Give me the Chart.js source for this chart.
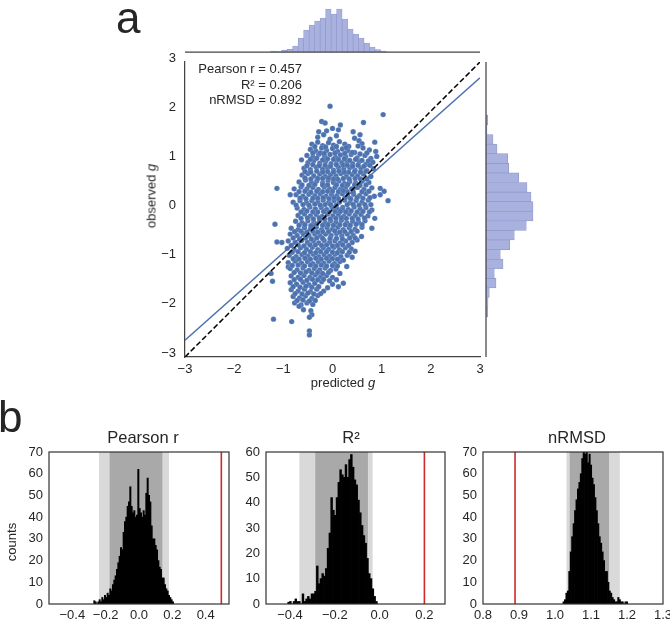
<!DOCTYPE html>
<html><head><meta charset="utf-8">
<script src="https://cdn.jsdelivr.net/npm/chart.js@4.4.0/dist/chart.umd.min.js"></script>
<style>
html,body{margin:0;padding:0;background:#fff;overflow:hidden;width:670px;height:629px}
#wrap{position:relative;width:670px;height:629px;overflow:hidden;font-family:'Liberation Sans',Arial,Helvetica,sans-serif;color:#262626}
canvas{position:absolute}
.t{position:absolute;white-space:nowrap;line-height:1}
.c{transform:translate(-50%,-50%)}
.r{transform:translate(-50%,-50%) rotate(-90deg)}
</style></head><body><div id="wrap">
<canvas id="main" width="370" height="360" style="left:125px;top:40px"></canvas>
<canvas id="topm" width="295" height="56" style="left:185px;top:0px"></canvas>
<canvas id="rightm" width="90" height="295" style="left:482px;top:62px"></canvas>
<canvas id="h1" width="240" height="209" style="left:0px;top:420px"></canvas>
<canvas id="h2" width="225" height="209" style="left:230px;top:420px"></canvas>
<canvas id="h3" width="240" height="209" style="left:450px;top:420px"></canvas>

<div class="t" style="left:116px;top:-4px;font-size:44px">a</div>
<div class="t" style="left:-2px;top:395px;font-size:44px">b</div>
<div class="t" style="left:130px;top:61px;width:172px;text-align:right;font-size:13px;line-height:15.5px">Pearson r = 0.457<br>R² = 0.206<br>nRMSD = 0.892</div>
<div class="t r" style="left:151px;top:196px;font-size:13px">observed <i>g</i></div>
<div class="t c" style="left:343px;top:382px;font-size:13px">predicted <i>g</i></div>
<div class="t r" style="left:11px;top:542px;font-size:13px">counts</div>
<div class="t c" style="left:143px;top:437px;font-size:16.5px">Pearson r</div>
<div class="t c" style="left:351px;top:437px;font-size:16.5px">R²</div>
<div class="t c" style="left:577px;top:437px;font-size:16.5px">nRMSD</div>
</div>
<script>
// ---------------- DATA ----------------
// panel a: [predicted g, observed g]
const scatterPoints = [
[-0.05,2.10],[1.03,1.93],[-0.22,1.79],[-0.15,1.76],[0.63,1.77],[0.16,1.72],[0.00,1.65],[0.12,1.62],[-0.12,1.60],[-0.28,1.58],[0.42,1.58],[0.56,1.52],
[-0.30,1.47],[-0.18,1.52],[-0.05,1.43],[0.08,1.50],[0.45,1.45],[0.54,1.40],
[-0.42,1.33],[-0.30,1.37],[-0.20,1.30],[-0.08,1.36],[0.02,1.31],[0.14,1.38],[0.25,1.33],[0.33,1.28],[0.60,1.34],[0.86,1.37],
[-0.45,1.22],[-0.34,1.19],[-0.22,1.25],[-0.12,1.20],[0.00,1.24],[0.10,1.18],[0.20,1.23],[0.31,1.20],[0.45,1.16],[0.62,1.25],[0.75,1.21],[0.88,1.18],
[-0.52,1.10],[-0.40,1.07],[-0.28,1.12],[-0.16,1.08],[-0.05,1.12],[0.06,1.06],[0.16,1.11],[0.27,1.07],[0.38,1.12],[0.50,1.05],[0.66,1.10],[0.78,1.04],[0.90,1.08],
[-0.63,1.01],[-0.50,0.95],[-0.38,0.99],[-0.26,0.94],[-0.14,0.98],[-0.03,0.93],[0.08,0.99],[0.19,0.95],[0.30,0.98],[0.41,0.93],[0.54,0.97],[0.68,0.92],[0.82,0.96],
[-0.58,0.84],[-0.45,0.81],[-0.33,0.86],[-0.20,0.82],[-0.10,0.85],[0.02,0.80],[0.12,0.86],[0.23,0.82],[0.35,0.85],[0.46,0.80],[0.58,0.84],[0.70,0.79],[0.83,0.83],
[-0.62,0.70],[-0.50,0.73],[-0.38,0.68],[-0.26,0.72],[-0.15,0.67],[-0.04,0.71],[0.07,0.68],[0.17,0.73],[0.28,0.67],[0.40,0.71],[0.51,0.68],[0.63,0.72],[0.78,0.67],
[-0.68,0.56],[-0.55,0.60],[-0.43,0.55],[-0.32,0.58],[-0.20,0.54],[-0.09,0.59],[0.02,0.55],[0.13,0.58],[0.24,0.53],[0.35,0.57],[0.47,0.54],[0.60,0.58],[0.74,0.55],
[-1.13,0.43],[-0.78,0.42],[-0.64,0.46],[-0.52,0.42],[-0.40,0.45],[-0.29,0.41],[-0.17,0.46],[-0.06,0.42],[0.05,0.45],[0.16,0.41],[0.27,0.46],[0.39,0.42],[0.51,0.45],[0.64,0.41],[0.80,0.44],[0.97,0.43],[1.05,0.37],
[-0.86,0.30],[-0.74,0.30],[-0.60,0.27],[-0.48,0.31],[-0.36,0.28],[-0.25,0.32],[-0.13,0.27],[-0.02,0.31],[0.09,0.28],[0.20,0.32],[0.31,0.27],[0.43,0.31],[0.55,0.28],[0.68,0.32],[0.85,0.27],[0.97,0.30],
[-0.80,0.15],[-0.66,0.18],[-0.53,0.14],[-0.42,0.18],[-0.30,0.15],[-0.19,0.19],[-0.08,0.14],[0.03,0.18],[0.14,0.15],[0.25,0.19],[0.36,0.14],[0.48,0.18],[0.60,0.15],[0.73,0.19],[1.13,0.18],
[-0.72,0.03],[-0.58,0.00],[-0.46,0.05],[-0.35,0.01],[-0.23,0.04],[-0.12,0.00],[-0.01,0.05],[0.10,0.01],[0.21,0.04],[0.32,0.00],[0.44,0.05],[0.56,0.01],[0.68,0.04],[0.80,-0.01],
[-0.70,-0.12],[-0.57,-0.09],[-0.45,-0.13],[-0.33,-0.10],[-0.21,-0.14],[-0.10,-0.09],[0.01,-0.13],[0.12,-0.10],[0.23,-0.14],[0.34,-0.09],[0.46,-0.12],[0.58,-0.10],[0.72,-0.13],[0.86,-0.18],
[-1.17,-0.30],[-0.75,-0.24],[-0.62,-0.27],[-0.50,-0.23],[-0.38,-0.26],[-0.26,-0.22],[-0.15,-0.27],[-0.04,-0.23],[0.07,-0.26],[0.18,-0.22],[0.29,-0.27],[0.41,-0.24],[0.53,-0.26],[0.66,-0.23],
[-0.84,-0.38],[-0.70,-0.41],[-0.57,-0.37],[-0.45,-0.40],[-0.33,-0.36],[-0.22,-0.41],[-0.11,-0.37],[0.00,-0.40],[0.11,-0.36],[0.22,-0.41],[0.34,-0.37],[0.46,-0.40],[0.60,-0.36],[0.80,-0.38],
[-0.86,-0.50],[-0.72,-0.53],[-0.60,-0.49],[-0.48,-0.53],[-0.36,-0.50],[-0.25,-0.54],[-0.14,-0.50],[-0.03,-0.53],[0.08,-0.49],[0.19,-0.54],[0.30,-0.50],[0.42,-0.53],[0.59,-0.55],
[-1.13,-0.66],[-1.03,-0.67],[-0.90,-0.64],[-0.76,-0.67],[-0.63,-0.63],[-0.51,-0.67],[-0.39,-0.64],[-0.28,-0.68],[-0.17,-0.63],[-0.06,-0.67],[0.05,-0.64],[0.16,-0.68],[0.27,-0.64],[0.40,-0.67],[0.50,-0.62],
[-0.92,-0.79],[-0.78,-0.82],[-0.65,-0.78],[-0.53,-0.81],[-0.41,-0.77],[-0.30,-0.82],[-0.19,-0.78],[-0.08,-0.81],[0.03,-0.77],[0.14,-0.82],[0.26,-0.78],[0.38,-0.80],[0.46,-0.85],
[-0.88,-0.93],[-0.74,-0.96],[-0.62,-0.92],[-0.50,-0.95],[-0.39,-0.91],[-0.28,-0.96],[-0.17,-0.92],[-0.06,-0.95],[0.05,-0.91],[0.17,-0.96],[0.30,-0.93],[0.40,-0.97],
[-0.90,-1.08],[-0.76,-1.05],[-0.63,-1.09],[-0.51,-1.06],[-0.40,-1.10],[-0.29,-1.06],[-0.18,-1.09],[-0.07,-1.05],[0.04,-1.10],[0.15,-1.06],[0.29,-1.16],[0.22,-1.03],
[-0.90,-1.17],[-0.86,-1.20],[-0.72,-1.23],[-0.60,-1.19],[-0.48,-1.24],[-0.37,-1.20],[-0.26,-1.23],[-0.15,-1.19],[-0.04,-1.24],[0.07,-1.21],[0.15,-1.30],
[-1.25,-1.30],[-0.84,-1.35],[-0.70,-1.38],[-0.58,-1.34],[-0.46,-1.38],[-0.35,-1.33],[-0.24,-1.37],[-0.12,-1.34],[0.00,-1.38],[0.08,-1.43],
[-1.22,-1.46],[-0.86,-1.49],[-0.73,-1.52],[-0.60,-1.48],[-0.48,-1.53],[-0.36,-1.50],[-0.22,-1.47],[0.00,-1.52],[0.12,-1.57],[0.22,-1.50],
[-0.84,-1.63],[-0.70,-1.66],[-0.57,-1.62],[-0.45,-1.67],[-0.32,-1.62],[-0.18,-1.66],
[-0.80,-1.77],[-0.67,-1.80],[-0.55,-1.76],[-0.42,-1.81],[-0.30,-1.75],
[-0.77,-1.90],[-0.64,-1.94],[-0.52,-1.90],[-0.40,-1.93],[-0.68,-1.97],[-0.59,-2.04],[-0.44,-2.06],
[-0.42,-2.14],[-0.47,-2.19],[-1.20,-2.23],[-0.83,-2.28],[-0.47,-2.47],[-0.47,-2.55],
[-0.25,1.15],[0.02,1.02],[0.22,0.90],[-0.10,0.77],[0.33,0.76],[-0.30,0.63],[0.10,0.62],[0.45,0.50],[-0.20,0.50],[0.00,0.37],[0.30,0.36],[-0.40,0.23],[0.12,0.22],[0.42,0.10],[-0.15,0.10],[0.05,-0.04],[-0.30,-0.05],[0.28,-0.18],[-0.05,-0.19],[0.15,-0.31],[-0.40,-0.31],[0.25,-0.45],[-0.20,-0.45],[-0.05,-0.59],[0.35,-0.58],[-0.35,-0.72],[0.10,-0.73],[-0.12,-0.86],[0.20,0.00],[0.50,0.24],
[-0.36,1.28],[-0.14,1.27],[0.08,1.28],[0.28,1.26],[0.52,1.29],
[-0.40,1.15],[-0.17,1.14],[0.05,1.15],[0.25,1.14],[0.40,1.16],[0.56,1.13],[0.70,1.15],
[-0.45,1.02],[-0.32,1.04],[-0.20,1.01],[-0.10,1.03],[0.12,1.02],[0.24,1.03],[0.35,1.00],[0.47,1.02],[0.60,1.00],[0.73,0.99],
[-0.52,0.89],[-0.40,0.91],[-0.27,0.89],[-0.15,0.90],[-0.04,0.88],[0.08,0.91],[0.30,0.90],[0.41,0.88],[0.52,0.90],[0.64,0.88],[0.76,0.90],
[-0.56,0.77],[-0.44,0.76],[-0.32,0.78],[-0.20,0.76],[0.02,0.76],[0.13,0.78],[0.24,0.76],[0.45,0.77],[0.57,0.76],[0.68,0.78],
[-0.56,0.64],[-0.44,0.62],[-0.20,0.63],[-0.08,0.64],[0.02,0.62],[0.22,0.63],[0.34,0.62],[0.46,0.63],[0.57,0.62],[0.70,0.62],
[-0.62,0.50],[-0.48,0.49],[-0.36,0.51],[-0.10,0.50],[0.08,0.50],[0.20,0.49],[0.31,0.51],[0.56,0.49],[0.68,0.50],
[-0.68,0.36],[-0.56,0.37],[-0.44,0.35],[-0.32,0.37],[-0.20,0.36],[-0.10,0.37],[0.12,0.36],[0.22,0.38],[0.42,0.36],[0.60,0.36],[0.74,0.37],
[-0.66,0.23],[-0.54,0.22],[-0.30,0.23],[-0.19,0.24],[-0.07,0.22],[0.03,0.24],[0.25,0.23],[0.37,0.22],[0.62,0.23],[0.76,0.24],
[-0.74,0.09],[-0.60,0.10],[-0.48,0.09],[-0.36,0.11],[-0.25,0.09],[-0.04,0.10],[0.08,0.09],[0.30,0.10],[0.54,0.09],[0.66,0.10],[0.78,0.10],
[-0.64,-0.05],[-0.52,-0.03],[-0.40,-0.05],[-0.18,-0.04],[-0.07,-0.05],[0.16,-0.04],[0.27,-0.05],[0.38,-0.03],[0.50,-0.05],[0.62,-0.04],[0.75,-0.05],
[-0.64,-0.18],[-0.51,-0.17],[-0.39,-0.19],[-0.27,-0.17],[-0.16,-0.19],[0.07,-0.18],[0.18,-0.17],[0.40,-0.18],[0.52,-0.19],[0.65,-0.17],
[-0.68,-0.32],[-0.56,-0.31],[-0.44,-0.33],[-0.32,-0.30],[-0.20,-0.32],[-0.09,-0.31],[0.02,-0.32],[0.26,-0.31],[0.36,-0.32],[0.48,-0.30],[0.60,-0.31],
[-0.77,-0.45],[-0.64,-0.44],[-0.52,-0.46],[-0.40,-0.44],[-0.30,-0.46],[-0.08,-0.45],[0.05,-0.44],[0.15,-0.46],[0.38,-0.45],[0.50,-0.44],
[-0.80,-0.58],[-0.67,-0.60],[-0.55,-0.58],[-0.43,-0.60],[-0.32,-0.58],[-0.20,-0.59],[0.08,-0.59],[0.20,-0.60],[0.46,-0.58],
[-0.84,-0.73],[-0.70,-0.72],[-0.58,-0.74],[-0.46,-0.72],[-0.22,-0.73],[-0.12,-0.72],[0.00,-0.74],[0.21,-0.72],[0.33,-0.73],
[-0.82,-0.87],[-0.70,-0.86],[-0.57,-0.88],[-0.45,-0.86],[-0.34,-0.88],[-0.24,-0.86],[0.00,-0.87],[0.10,-0.88],[0.20,-0.86],[0.34,-0.87],
[-0.80,-1.00],[-0.68,-1.01],[-0.56,-0.99],[-0.45,-1.01],[-0.34,-0.99],[-0.23,-1.01],[-0.12,-0.99],[0.00,-1.00],[0.10,-1.01],
[-0.82,-1.14],[-0.70,-1.13],[-0.57,-1.15],[-0.45,-1.13],[-0.34,-1.15],[-0.23,-1.13],[-0.12,-1.15],[0.00,-1.14],[0.10,-1.15],
[-0.78,-1.28],[-0.65,-1.29],[-0.54,-1.27],[-0.42,-1.29],[-0.30,-1.28],[-0.20,-1.30],[-0.08,-1.28],
[-0.78,-1.43],[-0.65,-1.42],[-0.52,-1.44],[-0.41,-1.42],[-0.30,-1.43],[-0.18,-1.42],[-0.06,-1.45],
[-0.80,-1.57],[-0.66,-1.58],[-0.54,-1.56],[-0.42,-1.58],[-0.28,-1.57],[-0.10,-1.59],
[-0.76,-1.71],[-0.62,-1.72],[-0.50,-1.70],[-0.38,-1.72],[-0.24,-1.71],
[-0.72,-1.85],[-0.60,-1.84],[-0.47,-1.86],[-0.35,-1.85]
];
const fitSlope = 0.89;          // blue regression line
const fitIntercept = 0.01;
const lineEnds = [-3, 3];       // x extent of both lines (axis limits)

// marginal histograms (bar heights in relative units)
const topHistStart = -1.258, topHistWidth = 0.1118;
const topHistCounts = [1,0.5,1.7,2.7,6,14,22,27,31,34,43,38,43,33,23,18,14,9,5,2.3,1];
const rightHistStart = -2.18, rightHistWidth = 0.195;   // listed bottom -> top
const rightHistCounts = [1.7,2,3.3,10,8.3,17,14.3,23.7,28.3,40.3,47,47,45,41,32.7,22.7,21.7,11,7,1,1.7];

// panel b: permutation histograms
const pearsonStart = -0.272, pearsonWidth = 0.008;
const pearsonCounts = [1.5,1,0,1,2,1,3,2,4,3,5,4,7,6,9,11,13,16,19,22,26,25,33,38,40,45,47,54,45,42,43,40,41,62,44,42,40,43,41,51,58,50,47,36,30,30,27,25,20,17,16,12,12,9,7,6,4,3,2,1];
const pearsonOuter = [-0.24, 0.18], pearsonInner = [-0.176, 0.14], pearsonObserved = 0.494;

const r2Start = -0.41, r2Width = 0.008;
const r2Counts = [0.7,1,0,1,2,1,1,0,4,1,2,3,2,4,4,5,15,8,10,12,11,14,22,28,42,37,35,42,48,53,51,50,55,50,57,59,54,49,47,41,36,31,27,24,18,12,10,6,3,1];
const r2Outer = [-0.358, -0.031], r2Inner = [-0.287, -0.052], r2Observed = 0.2;

const nrmsdStart = 1.022, nrmsdWidth = 0.004;
const nrmsdCounts = [1,2,5,6,15,24,31,37,43,48,53,56,60,67,70,69,70,65,69,64,58,55,49,43,37,31,28,24,20,15,15,10,6,5,3,2,1,1,3,2,1,1,0,1,1];
const nrmsdOuter = [1.032, 1.18], nrmsdInner = [1.041, 1.15], nrmsdObserved = 0.889;

// ---------------- RENDERING ----------------
const FONT = "'Liberation Sans', Arial, Helvetica, sans-serif";
Chart.defaults.font.family = FONT;
Chart.defaults.color = '#262626';
Chart.defaults.animation = false;

const BLUE = '#4c72b0';
const HIST_FILL = '#a9b1de';
const HIST_EDGE = '#8f98cc';
const SPINE = '#444';

function binsToData(start, width, counts, horizontal) {
  return counts.map((c, i) => {
    const centre = start + width * (i + 0.5);
    return horizontal ? {x: c, y: centre} : {x: centre, y: c};
  });
}
function fmtInt(v) { return v < 0 ? '\u2212' + Math.abs(v) : String(v); }
function fmt1(v) {
  if (Math.abs(v) < 1e-9) return '0.0';
  const s = Math.abs(v).toFixed(1);
  return v < 0 ? '\u2212' + s : s;
}
const noPlug = {legend: {display: false}, tooltip: {enabled: false}};

const spinePlugin = {
  id: 'spines',
  afterDatasetsDraw(chart, args, opts) {
    const {ctx, chartArea: a} = chart;
    ctx.save();
    ctx.strokeStyle = opts.color || SPINE;
    ctx.lineWidth = opts.width || 1.2;
    (opts.sides || []).forEach(s => {
      ctx.beginPath();
      if (s === 'bottom') { ctx.moveTo(a.left, a.bottom); ctx.lineTo(a.right, a.bottom); }
      if (s === 'left') { ctx.moveTo(a.left, a.top); ctx.lineTo(a.left, a.bottom); }
      ctx.stroke();
    });
    ctx.restore();
  }
};

// main scatter
new Chart(document.getElementById('main'), {
  type: 'scatter',
  data: {datasets: [
    {type: 'line', data: lineEnds.map(v => ({x: v, y: v})), borderColor: '#000', borderWidth: 1.5,
     borderDash: [5.5, 2.6], pointRadius: 0, fill: false},
    {type: 'line', data: lineEnds.map(v => ({x: v, y: fitSlope * v + fitIntercept})), borderColor: BLUE,
     borderWidth: 1.5, pointRadius: 0, fill: false},
    {data: scatterPoints.map(p => ({x: p[0], y: p[1]})), backgroundColor: BLUE, borderColor: 'rgba(255,255,255,0.4)',
     borderWidth: 0.35, pointRadius: 2.7}
  ]},
  options: {
    responsive: false, devicePixelRatio: 1, animation: false,
    layout: {padding: {top: 22, right: 15, left: 0, bottom: 0}},
    plugins: noPlug,
    scales: {
      x: {type: 'linear', min: -3, max: 3,
          ticks: {stepSize: 1, callback: fmtInt, font: {size: 13}, color: '#262626', padding: 5, maxRotation: 0},
          grid: {display: false, drawTicks: false}, border: {color: SPINE, width: 1.25},
          afterFit: s => { s.height = 43; }},
      y: {type: 'linear', min: -3, max: 3,
          ticks: {stepSize: 1, callback: fmtInt, font: {size: 13}, color: '#262626', padding: 9, labelOffset: -4},
          grid: {display: false, drawTicks: false}, border: {color: SPINE, width: 1.25},
          afterFit: s => { s.width = 60; }}
    }
  }
});

// top marginal
new Chart(document.getElementById('topm'), {
  type: 'bar',
  data: {datasets: [{data: binsToData(topHistStart, topHistWidth, topHistCounts, false),
    backgroundColor: HIST_FILL, borderColor: HIST_EDGE, borderWidth: 0.7,
    barPercentage: 1, categoryPercentage: 1}]},
  options: {
    responsive: false, devicePixelRatio: 1, animation: false,
    layout: {padding: {bottom: 4}},
    plugins: Object.assign({spines: {sides: ['bottom'], width: 1.25}}, noPlug),
    scales: {x: {type: 'linear', min: -3, max: 3, offset: false, display: false},
             y: {type: 'linear', min: 0, max: 52, display: false}}
  },
  plugins: [spinePlugin]
});

// right marginal
new Chart(document.getElementById('rightm'), {
  type: 'bar',
  data: {datasets: [{data: binsToData(rightHistStart, rightHistWidth, rightHistCounts, true),
    backgroundColor: HIST_FILL, borderColor: HIST_EDGE, borderWidth: 0.7,
    barPercentage: 1, categoryPercentage: 1}]},
  options: {
    indexAxis: 'y',
    responsive: false, devicePixelRatio: 1, animation: false,
    layout: {padding: {left: 4}},
    plugins: Object.assign({spines: {sides: ['left'], width: 1.25}}, noPlug),
    scales: {y: {type: 'linear', min: -3, max: 3, offset: false, display: false},
             x: {type: 'linear', min: 0, max: 86, display: false}}
  },
  plugins: [spinePlugin]
});

// permutation histograms
const bandPlugin = {
  id: 'bands',
  beforeDatasetsDraw(chart, args, o) {
    const {ctx, chartArea: a, scales: {x}} = chart;
    ctx.save();
    const band = (r, col) => {
      const x0 = x.getPixelForValue(r[0]), x1 = x.getPixelForValue(r[1]);
      ctx.fillStyle = col;
      ctx.fillRect(x0, a.top, x1 - x0, a.bottom - a.top);
    };
    band(o.outer, '#d9d9d9');
    band(o.inner, '#a9a9a9');
    ctx.restore();
  },
  afterDatasetsDraw(chart, args, o) {
    const {ctx, chartArea: a, scales: {x}} = chart;
    ctx.save();
    const xr = x.getPixelForValue(o.observed);
    ctx.strokeStyle = '#cc2a2a';
    ctx.lineWidth = 1.6;
    ctx.beginPath(); ctx.moveTo(xr, a.top); ctx.lineTo(xr, a.bottom); ctx.stroke();
    ctx.strokeStyle = '#333';
    ctx.lineWidth = 1.2;
    ctx.strokeRect(a.left, a.top, a.right - a.left, a.bottom - a.top);
    ctx.restore();
  }
};

function makeHist(id, start, width, counts, xmin, xmax, xstep, ymax, outer, inner, observed, yW, padR) {
  new Chart(document.getElementById(id), {
    type: 'bar',
    data: {datasets: [{data: binsToData(start, width, counts, false), backgroundColor: '#000',
      borderWidth: 0, barPercentage: 1, categoryPercentage: 1}]},
    options: {
      responsive: false, devicePixelRatio: 1, animation: false,
      layout: {padding: {top: 32, right: padR, left: 0, bottom: 0}},
      plugins: Object.assign({bands: {outer, inner, observed}}, noPlug),
      scales: {
        x: {type: 'linear', min: xmin, max: xmax, offset: false,
            ticks: {stepSize: xstep, includeBounds: false, callback: fmt1, font: {size: 13}, color: '#262626', padding: 4, maxRotation: 0, autoSkip: false},
            grid: {display: false, drawTicks: false}, border: {display: false},
            afterFit: s => { s.height = 25; }},
        y: {type: 'linear', min: 0, max: ymax,
            ticks: {stepSize: 10, font: {size: 13}, color: '#262626', padding: 6},
            grid: {display: false, drawTicks: false}, border: {display: false},
            afterFit: s => { s.width = yW; }}
      }
    },
    plugins: [bandPlugin]
  });
}
makeHist('h1', pearsonStart, pearsonWidth, pearsonCounts, -0.54, 0.54, 0.2, 70, pearsonOuter, pearsonInner, pearsonObserved, 49, 11);
makeHist('h2', r2Start, r2Width, r2Counts, -0.507, 0.292, 0.2, 60, r2Outer, r2Inner, r2Observed, 36, 10);
makeHist('h3', nrmsdStart, nrmsdWidth, nrmsdCounts, 0.8, 1.3, 0.1, 70, nrmsdOuter, nrmsdInner, nrmsdObserved, 33, 27);
</script>
</body></html>
